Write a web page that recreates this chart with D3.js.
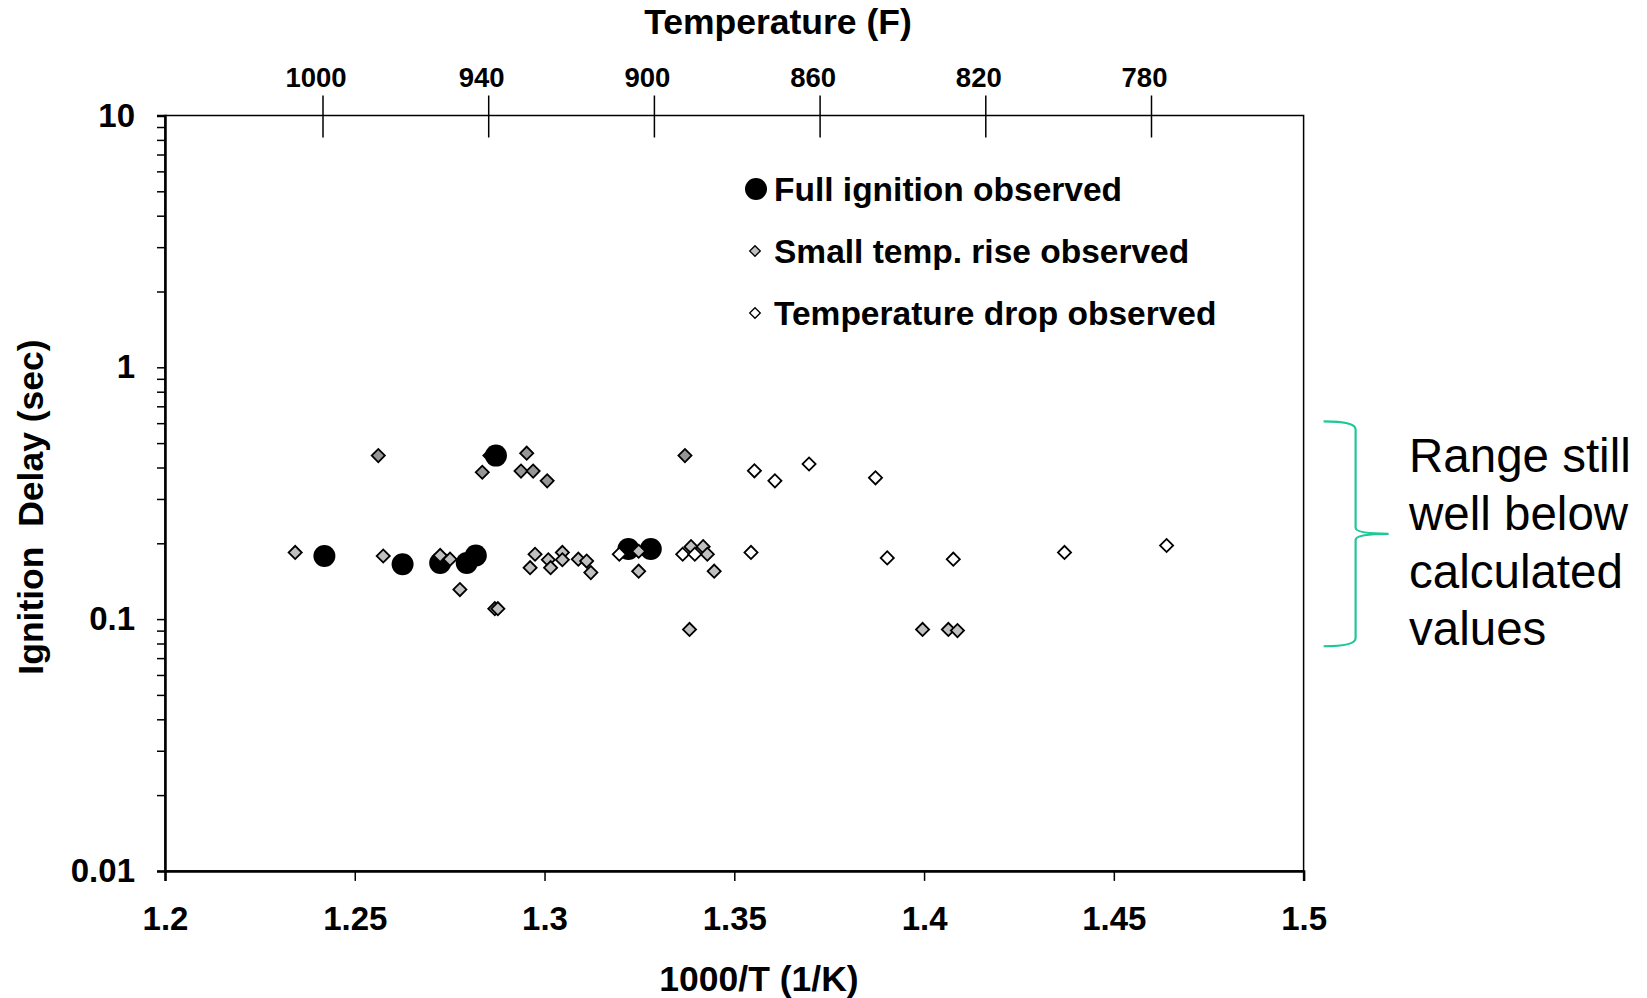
<!DOCTYPE html>
<html>
<head>
<meta charset="utf-8">
<script src="https://cdn.jsdelivr.net/npm/d3@7/dist/d3.min.js"></script>
<style>
body { margin: 0; background: #fff; }
text { font-family: "Liberation Sans", Arial, sans-serif; }
</style>
</head>
<body>
<svg id="chart" width="1647" height="998"></svg>
<script>
// 数据：1000/T 与 点火延迟(秒)
var fullX = [1.2420, 1.2626, 1.2725, 1.2795, 1.2819, 1.2872, 1.3221, 1.3280];
var fullY = [0.178, 0.165, 0.167, 0.167, 0.179, 0.446, 0.190, 0.190];

var riseHiX = [1.2562, 1.2836, 1.2856, 1.2953, 1.2938, 1.2970, 1.3007, 1.3370];
var riseHiY = [0.446, 0.383, 0.446, 0.456, 0.387, 0.387, 0.354, 0.446];

var riseX = [1.2343, 1.2575, 1.2725, 1.2751, 1.2777, 1.2869, 1.2877, 1.2975, 1.2962, 1.3010,
             1.3016, 1.3047, 1.3047, 1.3089, 1.3111, 1.3122, 1.3248, 1.3248, 1.3386, 1.3418,
             1.3429, 1.3447, 1.3382, 1.3996, 1.4064, 1.4088];
var riseY = [0.184, 0.178, 0.179, 0.173, 0.131, 0.110, 0.110, 0.181, 0.160, 0.172,
             0.160, 0.184, 0.172, 0.173, 0.170, 0.153, 0.186, 0.155, 0.194, 0.194,
             0.181, 0.155, 0.091, 0.091, 0.091, 0.090];

var dropX = [1.3197, 1.3364, 1.3396, 1.3553, 1.3607, 1.3697, 1.3872, 1.3544, 1.3903, 1.4077, 1.4370, 1.4639];
var dropY = [0.181, 0.181, 0.181, 0.388, 0.354, 0.413, 0.364, 0.184, 0.175, 0.173, 0.184, 0.196];

var xTicks = [1.2, 1.25, 1.3, 1.35, 1.4, 1.45, 1.5];
var yMajor = [0.01, 0.1, 1, 10];
var tempTicks = [1000, 940, 900, 860, 820, 780];
var legendNames = ["Full ignition observed", "Small temp. rise observed", "Temperature drop observed"];
var noteLines = ["Range still", "well below", "calculated", "values"];
var braceRange = [0.078, 0.61];     // 括号覆盖的延迟范围

var pLeft = 165, pRight = 1303.6, pTop = 115.5, pBottom = 870.9;

var svg = d3.select("#chart");

var x = d3.scaleLinear().domain([1.2, 1.5]).range([pLeft, pRight]);
var y = d3.scaleLog().domain([0.01, 10]).range([pBottom, pTop]);
var tx = d3.scalePoint().domain(tempTicks).range([322.5, 1151]);

// 外框
svg.append("rect")
    .attr("x", pLeft).attr("y", pTop)
    .attr("width", pRight - pLeft).attr("height", pBottom - pTop)
    .attr("fill", "none").attr("stroke", "#000").attr("stroke-width", 1.5);

// y轴 (对数，含次刻度)
var yTicks = [];
[0.01, 0.1, 1].forEach(function (d) {
    for (var i = 1; i < 10; i++) yTicks.push(+(d * i).toPrecision(2));
});
yTicks.push(10);
var gy = svg.append("g")
    .attr("transform", "translate(" + pLeft + ",0)")
    .call(d3.axisLeft(y).tickValues(yTicks).tickSize(8).tickPadding(22)
        .tickFormat(function (d) { return yMajor.indexOf(d) >= 0 ? d : ""; }));
gy.select(".domain").attr("stroke-width", 2.5);
gy.selectAll("line").attr("stroke-width", 1.5);
gy.selectAll("text").attr("font-size", 33).attr("font-weight", "bold")
    .attr("font-family", "Liberation Sans, Arial, sans-serif").attr("fill", "#000");

// x轴
var gx = svg.append("g")
    .attr("transform", "translate(0," + pBottom + ")")
    .call(d3.axisBottom(x).tickValues(xTicks).tickSize(10).tickPadding(26)
        .tickFormat(function (d) { return d3.format("")(d); }));
gx.select(".domain").attr("stroke-width", 2.5);
gx.selectAll("line").attr("stroke-width", 1.5);
gx.selectAll("text").attr("font-size", 33).attr("font-weight", "bold")
    .attr("font-family", "Liberation Sans, Arial, sans-serif").attr("fill", "#000");

// 顶部温度轴
var gt = svg.append("g")
    .attr("transform", "translate(0," + pTop + ")")
    .call(d3.axisTop(tx).tickSize(20).tickPadding(9));
gt.select(".domain").remove();
gt.selectAll("line").attr("y1", 22).attr("stroke-width", 1.5);
gt.selectAll("text").attr("font-size", 27.5).attr("font-weight", "bold")
    .attr("x", -7)
    .attr("font-family", "Liberation Sans, Arial, sans-serif").attr("fill", "#000");

// 轴标题
svg.append("text").text("Temperature (F)")
    .attr("x", 778).attr("y", 34)
    .attr("text-anchor", "middle").attr("font-size", 35.5).attr("font-weight", "bold");
svg.append("text").text("1000/T (1/K)")
    .attr("x", 759).attr("y", 991)
    .attr("text-anchor", "middle").attr("font-size", 35.5).attr("font-weight", "bold");
svg.append("text").text("Ignition  Delay (sec)")
    .attr("transform", "translate(43,507) rotate(-90)")
    .attr("text-anchor", "middle").attr("font-size", 35.5).attr("font-weight", "bold")
    .style("white-space", "pre");

// 散点
var diamond = function (area) {
    return d3.symbol().type(d3.symbolSquare).size(area);
};
function pts(xs, ys) {
    return xs.map(function (d, i) { return [d, ys[i]]; });
}
function drawDiamonds(data, fill) {
    svg.append("g").selectAll("path")
        .data(data)
        .enter()
        .append("path")
        .attr("d", diamond(86))
        .attr("transform", function (d) {
            return "translate(" + x(d[0]) + "," + y(d[1]) + ") rotate(45)";
        })
        .attr("fill", fill)
        .attr("stroke", "#000")
        .attr("stroke-width", 1.8);
}
drawDiamonds(pts(riseHiX, riseHiY), "#969696");
svg.append("g").selectAll("circle")
    .data(pts(fullX, fullY))
    .enter()
    .append("circle")
    .attr("cx", function (d) { return x(d[0]); })
    .attr("cy", function (d) { return y(d[1]); })
    .attr("r", 11)
    .attr("fill", "#000");
drawDiamonds(pts(riseX, riseY), "#c0c0c0");
drawDiamonds(pts(dropX, dropY), "#fff");

// 图例
var lg = svg.append("g");
legendNames.forEach(function (name, i) {
    var cy = 189 + i * 62;
    if (i === 0) {
        lg.append("circle").attr("cx", 756).attr("cy", cy).attr("r", 11).attr("fill", "#000");
    } else {
        lg.append("path").attr("d", diamond(56))
            .attr("transform", "translate(755," + cy + ") rotate(45)")
            .attr("fill", i === 1 ? "#c0c0c0" : "#fff")
            .attr("stroke", "#000").attr("stroke-width", 1.3);
    }
    lg.append("text").text(name)
        .attr("x", 774).attr("y", cy + 12)
        .attr("font-size", 33.5).attr("font-weight", "bold");
});

// 右侧括号与注释
var b0 = y(braceRange[1]), b1 = y(braceRange[0]), bm = (b0 + b1) / 2;
var bx0 = pRight + 20, bx1 = pRight + 52, bx2 = pRight + 85;
var p = d3.path();
p.moveTo(bx0, b0);
p.quadraticCurveTo(bx1, b0, bx1, b0 + 8);
p.lineTo(bx1, bm - 6);
p.quadraticCurveTo(bx1, bm, bx2, bm);
p.quadraticCurveTo(bx1, bm, bx1, bm + 6);
p.lineTo(bx1, b1 - 8);
p.quadraticCurveTo(bx1, b1, bx0, b1);
svg.append("path").attr("d", p.toString())
    .attr("fill", "none").attr("stroke", "#1ec896").attr("stroke-width", 2.2);

svg.append("g").selectAll("text")
    .data(noteLines)
    .enter()
    .append("text")
    .text(function (d) { return d; })
    .attr("x", 1409)
    .attr("y", function (d, i) { return 472 + i * 57.8; })
    .attr("font-size", 47.5)
    .attr("fill", "#000");
</script>
</body>
</html>
